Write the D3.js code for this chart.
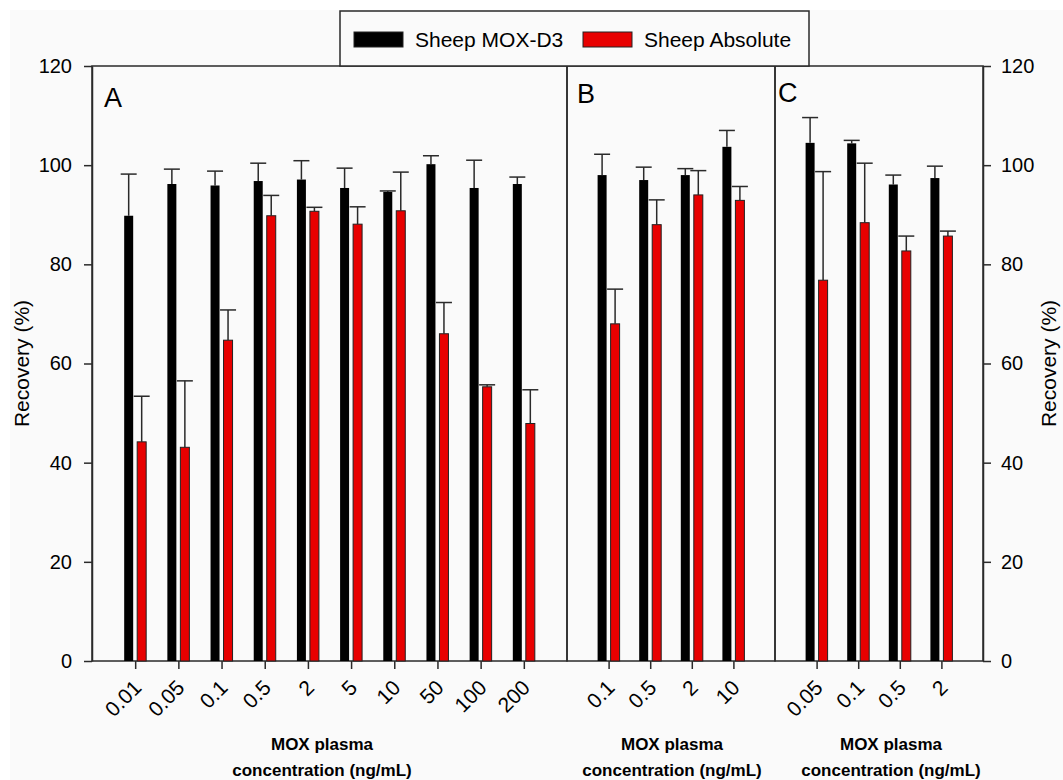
<!DOCTYPE html>
<html>
<head>
<meta charset="utf-8">
<script src="https://cdn.jsdelivr.net/npm/d3@7"></script>
<style>
  body { margin: 0; background: #fff; }
  text { font-family: 'Liberation Sans', Arial, sans-serif; fill: #000; }
</style>
</head>
<body>
<svg id="chart" width="1063" height="780"></svg>
<script>
// Panel A
const catsA = ['0.01', '0.05', '0.1', '0.5', '2', '5', '10', '50', '100', '200'];
const mox3A = [89.8, 96.2, 95.9, 96.8, 97.1, 95.4, 94.6, 100.2, 95.4, 96.2];
const mox3AErr = [8.4, 3.0, 2.9, 3.6, 3.8, 4.0, 0.2, 1.7, 5.6, 1.4];
const absA = [44.2, 43.1, 64.7, 89.8, 90.7, 88.1, 90.8, 66.0, 55.3, 47.9];
const absAErr = [9.2, 13.4, 6.1, 4.1, 0.8, 3.5, 7.8, 6.3, 0.4, 6.8];

// Panel B
const catsB = ['0.1', '0.5', '2', '10'];
const mox3B = [98.0, 97.0, 98.0, 103.7];
const mox3BErr = [4.2, 2.6, 1.3, 3.3];
const absB = [68.0, 88.0, 94.0, 92.9];
const absBErr = [7.0, 5.0, 4.9, 2.8];

// Panel C
const catsC = ['0.05', '0.1', '0.5', '2'];
const mox3C = [104.5, 104.4, 96.1, 97.4];
const mox3CErr = [5.1, 0.6, 1.9, 2.4];
const absC = [76.8, 88.4, 82.7, 85.7];
const absCErr = [21.9, 12.0, 3.0, 1.0];

const yTicks = [0, 20, 40, 60, 80, 100, 120];
const seriesNames = ['Sheep MOX-D3', 'Sheep Absolute'];
const seriesColors = ['#000000', '#e80000'];

const svg = d3.select('#chart');
const plotTop = 66, plotBottom = 661, plotLeft = 92, plotRight = 983;
const bg = '#fafafa', ink = '#2a2a2a';
const fontFam = "'Liberation Sans', Arial, sans-serif";

svg.append('rect')
  .attr('x', 10).attr('y', 10).attr('width', 1053).attr('height', 770)
  .attr('fill', bg);

const y = d3.scaleLinear().domain([0, 120]).range([plotBottom, plotTop]);

const panels = [
  { label: 'A', cats: catsA, a: mox3A, aErr: mox3AErr, b: absA, bErr: absAErr, x0: plotLeft, x1: 567, lx: 104, ly: 107, tx: 322 },
  { label: 'B', cats: catsB, a: mox3B, aErr: mox3BErr, b: absB, bErr: absBErr, x0: 567, x1: 775, lx: 577, ly: 103, tx: 672 },
  { label: 'C', cats: catsC, a: mox3C, aErr: mox3CErr, b: absC, bErr: absCErr, x0: 775, x1: plotRight, lx: 778, ly: 102, tx: 891 }
];

const barW = 9;

panels.forEach(p => {
  const x = d3.scalePoint().domain(p.cats).range([p.x0, p.x1]).padding(1);
  const g = svg.append('g');

  g.append('rect')
    .attr('x', p.x0).attr('y', plotTop)
    .attr('width', p.x1 - p.x0).attr('height', plotBottom - plotTop)
    .attr('fill', 'none').attr('stroke', ink).attr('stroke-width', 1.5);

  const rows = p.cats.map((c, i) => ({ c, a: p.a[i], aErr: p.aErr[i], b: p.b[i], bErr: p.bErr[i] }));

  const series = [
    { key: 'a', err: 'aErr', off: -11, fill: seriesColors[0], stroke: 'none' },
    { key: 'b', err: 'bErr', off: 2, fill: seriesColors[1], stroke: '#222' }
  ];

  series.forEach(s => {
    // error bars (upper only)
    g.selectAll(null)
      .data(rows)
      .enter().append('line')
        .attr('x1', d => x(d.c) + s.off + barW / 2)
        .attr('x2', d => x(d.c) + s.off + barW / 2)
        .attr('y1', d => y(d[s.key]))
        .attr('y2', d => y(d[s.key] + d[s.err]))
        .attr('stroke', ink).attr('stroke-width', 1.5);

    g.selectAll(null)
      .data(rows)
      .enter().append('line')
        .attr('x1', d => x(d.c) + s.off + barW / 2 - 8)
        .attr('x2', d => x(d.c) + s.off + barW / 2 + 8)
        .attr('y1', d => y(d[s.key] + d[s.err]))
        .attr('y2', d => y(d[s.key] + d[s.err]))
        .attr('stroke', ink).attr('stroke-width', 1.5);

    g.selectAll(null)
      .data(rows)
      .enter().append('rect')
        .attr('x', d => x(d.c) + s.off)
        .attr('y', d => y(d[s.key]))
        .attr('width', barW)
        .attr('height', d => y(0) - y(d[s.key]))
        .attr('fill', s.fill)
        .attr('stroke', s.stroke)
        .attr('stroke-width', 1);
  });

  const ax = g.append('g')
    .attr('transform', `translate(0,${plotBottom})`)
    .call(d3.axisBottom(x).tickSize(8).tickSizeOuter(0));
  ax.select('.domain').remove();
  ax.selectAll('.tick line').attr('stroke', ink).attr('stroke-width', 1.5);
  ax.selectAll('.tick text')
    .attr('x', 0).attr('y', 0).attr('dy', 0)
    .attr('text-anchor', 'end')
    .attr('transform', 'translate(7,28) rotate(-45)')
    .attr('font-family', fontFam)
    .attr('font-size', 21);

  g.append('text')
    .attr('x', p.lx).attr('y', p.ly)
    .attr('font-size', 27)
    .text(p.label);

  const xl = g.append('text')
    .attr('text-anchor', 'middle')
    .attr('font-size', 17).attr('font-weight', 'bold');
  xl.append('tspan').attr('x', p.tx).attr('y', 750).text('MOX plasma');
  xl.append('tspan').attr('x', p.tx).attr('y', 776).text('concentration (ng/mL)');
});

// y axes
const yl = svg.append('g')
  .attr('transform', `translate(${plotLeft},0)`)
  .call(d3.axisLeft(y).tickValues(yTicks).tickSize(8).tickSizeOuter(0).tickPadding(12));
const yr = svg.append('g')
  .attr('transform', `translate(${plotRight},0)`)
  .call(d3.axisRight(y).tickValues(yTicks).tickSize(8).tickSizeOuter(0).tickPadding(10));
[yl, yr].forEach(a => {
  a.select('.domain').attr('stroke', ink).attr('stroke-width', 1.5);
  a.selectAll('.tick line').attr('stroke', ink).attr('stroke-width', 1.5);
  a.selectAll('.tick text').attr('font-size', 20).attr('font-family', fontFam);
});

svg.append('text')
  .attr('transform', `translate(29,${(plotTop + plotBottom) / 2}) rotate(-90)`)
  .attr('text-anchor', 'middle')
  .attr('font-size', 21)
  .text('Recovery (%)');

svg.append('text')
  .attr('transform', `translate(1056,${(plotTop + plotBottom) / 2}) rotate(-90)`)
  .attr('text-anchor', 'middle')
  .attr('font-size', 21)
  .text('Recovery (%)');

// legend
const legend = svg.append('g').attr('transform', 'translate(340,11)');
legend.append('rect')
  .attr('width', 469).attr('height', 55)
  .attr('fill', bg).attr('stroke', ink).attr('stroke-width', 1.5);
const legX = [14, 243];
seriesNames.forEach((n, i) => {
  legend.append('rect')
    .attr('x', legX[i]).attr('y', 21)
    .attr('width', 49).attr('height', 15)
    .attr('fill', seriesColors[i])
    .attr('stroke', '#222').attr('stroke-width', 1);
  legend.append('text')
    .attr('x', legX[i] + 61).attr('y', 36)
    .attr('font-size', 21)
    .text(n);
});
</script>
</body>
</html>
